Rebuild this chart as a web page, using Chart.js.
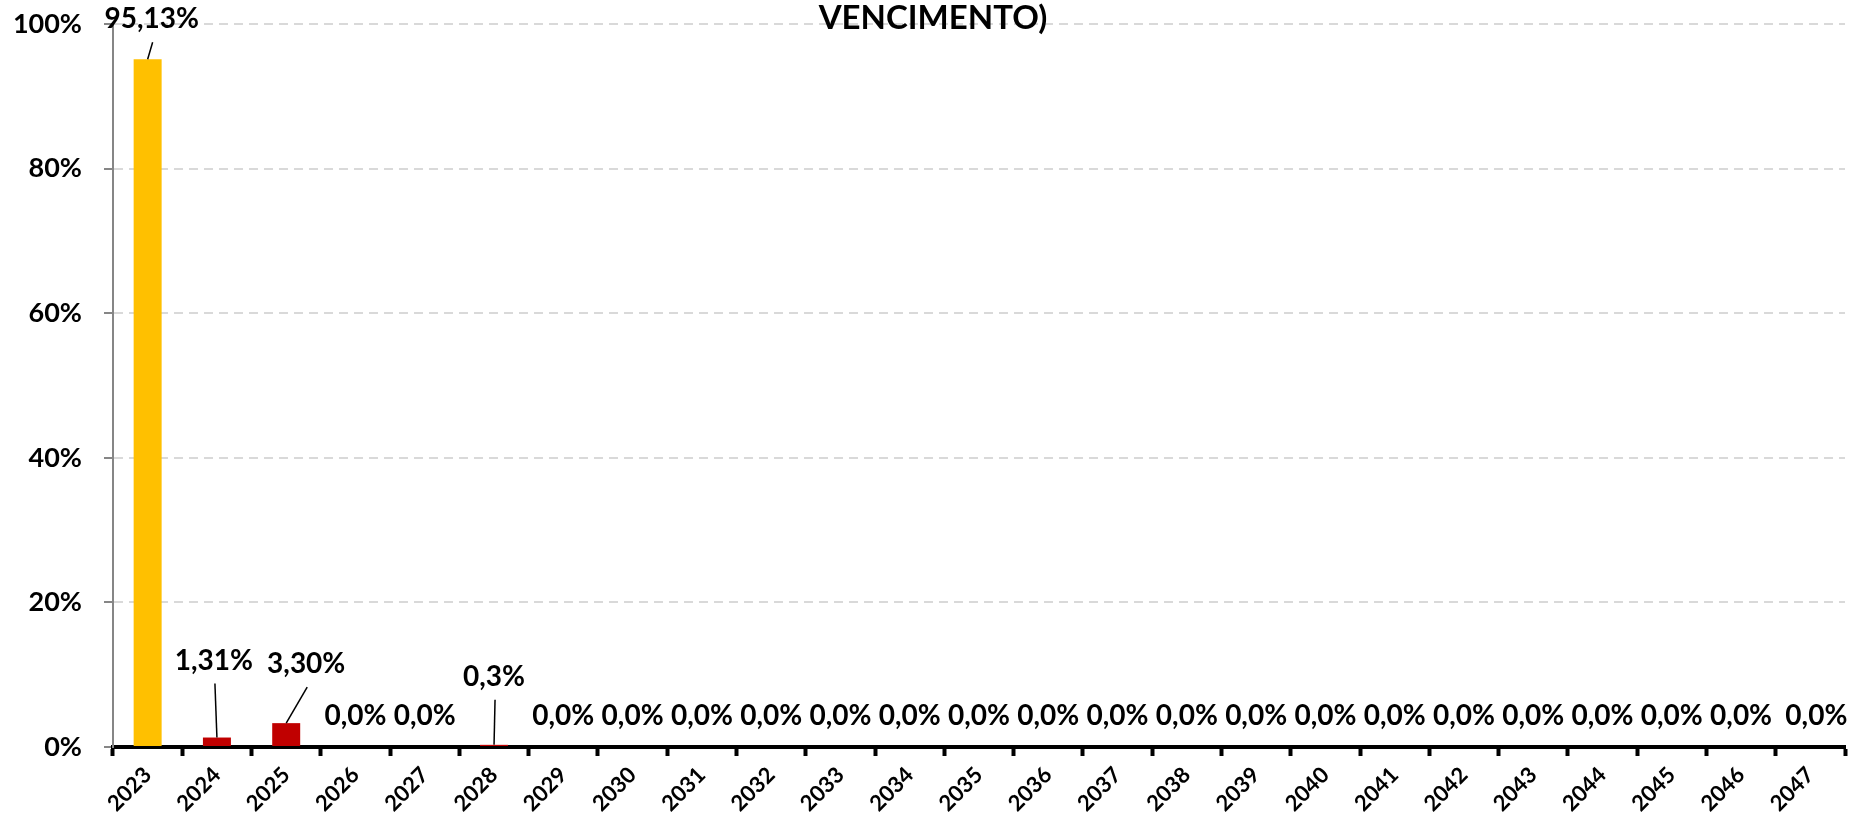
<!DOCTYPE html>
<html>
<head>
<meta charset="utf-8">
<script src="https://cdn.jsdelivr.net/npm/chart.js@4"></script>
<style>
  html, body { margin: 0; padding: 0; background: #fff; }
  #wrap { width: 1866px; height: 822px; }
</style>
</head>
<body>
<div id="wrap"><canvas id="chart" width="1866" height="822"></canvas></div>
<script>
// data
const years = ['2023', '2024', '2025', '2026', '2027', '2028', '2029', '2030', '2031', '2032',
  '2033', '2034', '2035', '2036', '2037', '2038', '2039', '2040', '2041', '2042',
  '2043', '2044', '2045', '2046', '2047'];
const shares = [95.13, 1.31, 3.30, 0, 0, 0.3, 0, 0, 0, 0,
  0, 0, 0, 0, 0, 0, 0, 0, 0, 0,
  0, 0, 0, 0, 0];
const decimals = [2, 2, 2, 1, 1, 1, 1, 1, 1, 1,
  1, 1, 1, 1, 1, 1, 1, 1, 1, 1,
  1, 1, 1, 1, 1];
const yTicks = [0, 20, 40, 60, 80, 100];
const titleText = 'VENCIMENTO)';

const YELLOW = '#FFC000';
const RED = '#C00000';

// labels that sit away from the bar, with a leader line
const callouts = {
  0: { dx: 4, dy: -40 },
  1: { dx: -3, dy: -77 },
  2: { dx: 20, dy: -59 },
  5: { dx: 0, dy: -68 }
};

const fmt = (v, d) => v.toFixed(d).replace('.', ',') + '%';

const labelPlugin = {
  id: 'barLabels',
  afterDatasetsDraw(chart) {
    const ctx = chart.ctx;
    const meta = chart.getDatasetMeta(0);
    const base = chart.scales.y.getPixelForValue(0);
    ctx.save();
    ctx.font = 'bold 28px Lato';
    ctx.fillStyle = '#000';
    ctx.textAlign = 'center';
    ctx.textBaseline = 'middle';
    meta.data.forEach((bar, i) => {
      const txt = fmt(shares[i], decimals[i]);
      const c = callouts[i];
      if (c) {
        const lx = bar.x + c.dx, ly = bar.y + c.dy;
        ctx.fillText(txt, lx, ly);
        ctx.beginPath();
        ctx.lineWidth = 1.5;
        ctx.strokeStyle = '#000';
        ctx.moveTo(lx + 1, ly + 23);
        ctx.lineTo(bar.x, bar.y);
        ctx.stroke();
      } else {
        const dx = i === shares.length - 1 ? 6 : 0;
        ctx.fillText(txt, bar.x + dx, base - 31);
      }
    });
    ctx.restore();
  }
};

const titlePlugin = {
  id: 'topTitle',
  afterDraw(chart) {
    const ctx = chart.ctx;
    ctx.save();
    ctx.font = 'bold 33px Lato';
    ctx.fillStyle = '#000';
    ctx.textAlign = 'center';
    ctx.textBaseline = 'middle';
    ctx.fillText(titleText, chart.width / 2, 18);
    ctx.restore();
  }
};

Chart.defaults.font.family = 'Lato';
Chart.defaults.color = '#000';

new Chart(document.getElementById('chart'), {
  type: 'bar',
  data: {
    labels: years,
    datasets: [{
      data: shares,
      backgroundColor: shares.map((_, i) => i === 0 ? YELLOW : RED),
      barPercentage: 0.404,
      categoryPercentage: 1
    }]
  },
  options: {
    responsive: false,
    animation: false,
    devicePixelRatio: 1,
    layout: { padding: { top: 24, right: 21, left: 0, bottom: 0 } },
    plugins: {
      legend: { display: false },
      tooltip: { enabled: false },
      title: { display: false }
    },
    scales: {
      x: {
        afterFit: s => { s.height = 75; },
        grid: {
          display: true,
          drawOnChartArea: false,
          drawTicks: true,
          tickLength: 9,
          tickColor: '#000',
          tickWidth: 4,
          offset: true
        },
        border: { display: true, color: '#000', width: 4 },
        ticks: {
          autoSkip: false,
          minRotation: 45,
          maxRotation: 45,
          padding: 6,
          color: '#000',
          font: { size: 22, weight: 'bold' }
        }
      },
      y: {
        min: 0,
        max: 100,
        afterFit: s => { s.width = 113; s.paddingTop = 0; s.paddingBottom = 0; },
        afterBuildTicks: s => { s.ticks = yTicks.map(v => ({ value: v })); },
        grid: {
          color: c => c.tick && c.tick.value === 0 ? 'rgba(0,0,0,0)' : '#D9D9D9',
          lineWidth: 2,
          drawTicks: true,
          tickLength: 9,
          tickColor: '#868686',
          tickWidth: 2
        },
        border: { display: true, color: '#868686', width: 2, dash: [9, 6] },
        ticks: {
          padding: 22,
          color: '#000',
          font: { size: 27, weight: 'bold' },
          callback: v => v + '%'
        }
      }
    }
  },
  plugins: [labelPlugin, titlePlugin]
});
</script>
</body>
</html>
